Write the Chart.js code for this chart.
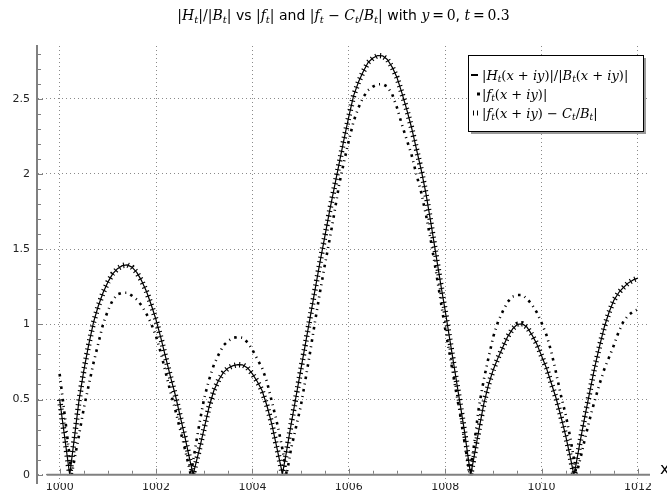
<!DOCTYPE html>
<html>
<head>
<meta charset="utf-8">
<script src="https://cdn.jsdelivr.net/npm/chart.js@4.4.1/dist/chart.umd.min.js"></script>
<style>
  html, body { margin: 0; padding: 0; background: #fff; }
</style>
</head>
<body>
<canvas id="chart" width="667" height="498"></canvas>
<script>
// sample positions along x (step 0.1 from 1000 to 1012)
const xValues = Array.from({ length: 121 }, (_, i) => +(1000 + i * 0.1).toFixed(1));

// |H_t(x+iy)| / |B_t(x+iy)|
const hValues = [
  0.50, 0.26, 0.02, 0.23, 0.49, 0.69, 0.86, 1.01, 1.12, 1.21,
  1.28, 1.335, 1.37, 1.39, 1.395, 1.38, 1.345, 1.29, 1.22, 1.13,
  1.03, 0.91, 0.78, 0.65, 0.53, 0.39, 0.25, 0.10, 0.04, 0.17,
  0.31, 0.45, 0.56, 0.63, 0.68, 0.71, 0.725, 0.732, 0.73, 0.71,
  0.67, 0.62, 0.56, 0.46, 0.34, 0.19, 0.04, 0.14, 0.33, 0.51,
  0.69, 0.87, 1.05, 1.23, 1.41, 1.58, 1.75, 1.91, 2.07, 2.23,
  2.38, 2.52, 2.61, 2.68, 2.74, 2.77, 2.787, 2.785, 2.76, 2.71,
  2.64, 2.54, 2.43, 2.31, 2.17, 2.03, 1.87, 1.68, 1.48, 1.28,
  1.09, 0.89, 0.69, 0.49, 0.29, 0.06, 0.12, 0.30, 0.47, 0.60,
  0.70, 0.78, 0.85, 0.92, 0.97, 1.00, 1.003, 0.98, 0.93, 0.87,
  0.79, 0.71, 0.61, 0.51, 0.39, 0.26, 0.11, 0.04, 0.22, 0.39,
  0.55, 0.71, 0.85, 0.98, 1.08, 1.16, 1.21, 1.245, 1.275, 1.295,
  1.307
];
const hZeros = [1000.21, 1002.77, 1004.62, 1008.53, 1010.67];

// |f_t(x+iy)|
const fValues = [
  0.67, 0.41, 0.14, 0.09, 0.26, 0.44, 0.59, 0.74, 0.87, 1.00,
  1.09, 1.16, 1.20, 1.21, 1.21, 1.19, 1.165, 1.125, 1.07, 1.005,
  0.92, 0.81, 0.68, 0.55, 0.43, 0.30, 0.17, 0.03, 0.15, 0.34,
  0.51, 0.63, 0.73, 0.80, 0.86, 0.89, 0.91, 0.916, 0.91, 0.88,
  0.83, 0.77, 0.71, 0.62, 0.49, 0.36, 0.21, 0.03, 0.17, 0.31,
  0.45, 0.63, 0.82, 1.02, 1.21, 1.39, 1.56, 1.74, 1.93, 2.08,
  2.22, 2.35, 2.44, 2.51, 2.556, 2.58, 2.595, 2.597, 2.58, 2.53,
  2.44, 2.33, 2.23, 2.13, 2.00, 1.88, 1.73, 1.56, 1.37, 1.17,
  0.97, 0.79, 0.60, 0.42, 0.22, 0.02, 0.20, 0.45, 0.63, 0.78,
  0.92, 1.02, 1.09, 1.15, 1.185, 1.195, 1.195, 1.17, 1.13, 1.08,
  1.01, 0.93, 0.82, 0.68, 0.53, 0.40, 0.24, 0.05, 0.10, 0.24,
  0.37, 0.49, 0.60, 0.70, 0.78, 0.86, 0.95, 1.02, 1.06, 1.085,
  1.10
];
const fZeros = [1000.25, 1002.72, 1004.71, 1008.51, 1010.72];

// |f_t - C_t/B_t| lies on top of |H_t|/|B_t| in the picture
const gValues = hValues;
const gZeros = hZeros;

const xTicks = [1000, 1002, 1004, 1006, 1008, 1010, 1012];
const yTicks = [0, 0.5, 1, 1.5, 2, 2.5];

// rich text pieces: m = math italic, r = math roman, s = sans, b = subscript
const titleText = [
  ['|', 'r'], ['H', 'm'], ['t', 'b'], ['|/|', 'r'], ['B', 'm'], ['t', 'b'], ['|', 'r'],
  [' vs ', 's'], ['|', 'r'], ['f', 'm'], ['t', 'b'], ['|', 'r'], [' and ', 's'],
  ['|', 'r'], ['f', 'm'], ['t', 'b'], [' \u2212 ', 'r'], ['C', 'm'], ['t', 'b'], ['/', 'r'],
  ['B', 'm'], ['t', 'b'], ['|', 'r'], [' with ', 's'], ['y', 'm'], ['\u2009=\u2009', 'r'], ['0', 'r'], [', ', 's'],
  ['t', 'm'], ['\u2009=\u2009', 'r'], ['0.3', 'r']
];
const legendLabels = [
  [['|', 'r'], ['H', 'm'], ['t', 'b'], ['(', 'r'], ['x', 'm'], [' + ', 'r'], ['iy', 'm'], [')|/|', 'r'],
   ['B', 'm'], ['t', 'b'], ['(', 'r'], ['x', 'm'], [' + ', 'r'], ['iy', 'm'], [')|', 'r']],
  [['|', 'r'], ['f', 'm'], ['t', 'b'], ['(', 'r'], ['x', 'm'], [' + ', 'r'], ['iy', 'm'], [')|', 'r']],
  [['|', 'r'], ['f', 'm'], ['t', 'b'], ['(', 'r'], ['x', 'm'], [' + ', 'r'], ['iy', 'm'], [') \u2212 ', 'r'],
   ['C', 'm'], ['t', 'b'], ['/', 'r'], ['B', 'm'], ['t', 'b'], ['|', 'r']]
];

function fontFor(kind, size) {
  if (kind === 'm') return `italic ${size}px "DejaVu Serif"`;
  if (kind === 'b') return `italic ${Math.round(size * 0.7)}px "DejaVu Serif"`;
  if (kind === 's') return `${size}px "DejaVu Sans"`;
  return `${size}px "DejaVu Serif"`;
}

function richWidth(ctx, segs, size) {
  let w = 0;
  segs.forEach(([t, k]) => { ctx.font = fontFor(k, size); w += ctx.measureText(t).width; });
  return w;
}

function drawRich(ctx, segs, x, y, size) {
  ctx.textBaseline = 'alphabetic';
  ctx.textAlign = 'left';
  segs.forEach(([t, k]) => {
    ctx.font = fontFor(k, size);
    ctx.fillText(t, x, k === 'b' ? y + size * 0.2 : y);
    x += ctx.measureText(t).width;
  });
}

function buildPoints(values, zeros) {
  const pts = xValues.map((x, i) => ({ x: x, y: values[i] }));
  zeros.forEach(z => pts.push({ x: z, y: 0 }));
  return pts.sort((a, b) => a.x - b.x);
}

// title, x axis line at y=0, inward ticks, "x" label and the legend box
const decorPlugin = {
  id: 'decor',
  afterDatasetsDraw(chart) {
    const { ctx, scales: { x, y } } = chart;
    const y0 = y.getPixelForValue(0);
    ctx.save();
    ctx.strokeStyle = '#808080';
    ctx.lineWidth = 2;
    ctx.beginPath();
    ctx.moveTo(x.getPixelForValue(999.73), y0);
    ctx.lineTo(x.right, y0);
    ctx.stroke();

    ctx.lineWidth = 1;
    ctx.beginPath();
    for (let k = 0; k <= 28; k++) {
      const py = Math.round(y.getPixelForValue(k / 10)) + 0.5;
      const len = k % 5 === 0 ? 5 : 3;
      ctx.moveTo(x.left + 1, py);
      ctx.lineTo(x.left + 1 + len, py);
    }
    for (let k = 0; k <= 24; k++) {
      const px = Math.round(x.getPixelForValue(1000 + k / 2)) + 0.5;
      const len = k % 4 === 0 ? 5 : 3;
      ctx.moveTo(px, y0 - 1);
      ctx.lineTo(px, y0 - 1 - len);
    }
    ctx.stroke();

    ctx.fillStyle = '#000';
    ctx.font = '16px "DejaVu Sans"';
    ctx.textBaseline = 'alphabetic';
    ctx.textAlign = 'left';
    ctx.fillText('x', 660, 474);
    ctx.restore();
  },
  afterDraw(chart) {
    const { ctx, scales: { x } } = chart;
    ctx.save();
    ctx.fillStyle = '#000';
    const size = 14;
    const w = richWidth(ctx, titleText, size);
    drawRich(ctx, titleText, (x.left + x.right) / 2 - w / 2, 20, size);

    // legend box with drop shadow
    const bx = 468, by = 55, bw = 175, bh = 76;
    ctx.fillStyle = '#9a9a9a';
    ctx.fillRect(bx + 3, by + 3, bw, bh);
    ctx.fillStyle = '#fff';
    ctx.fillRect(bx, by, bw, bh);
    ctx.strokeStyle = '#000';
    ctx.lineWidth = 1;
    ctx.strokeRect(bx + 0.5, by + 0.5, bw, bh);

    const rows = [75, 94, 113];
    ctx.fillStyle = '#000';
    ctx.lineWidth = 2;
    ctx.beginPath();
    ctx.moveTo(471, rows[0]);
    ctx.lineTo(478, rows[0]);
    ctx.stroke();
    ctx.fillRect(477, rows[1] - 1.5, 3, 3);
    ctx.lineWidth = 1;
    ctx.beginPath();
    ctx.moveTo(473.5, rows[2] - 2.5); ctx.lineTo(473.5, rows[2] + 2.5);
    ctx.moveTo(477.5, rows[2] - 2.5); ctx.lineTo(477.5, rows[2] + 2.5);
    ctx.stroke();
    legendLabels.forEach((segs, i) => drawRich(ctx, segs, 482, rows[i] + 4.5, 13));
    ctx.restore();
  }
};

const ctx = document.getElementById('chart').getContext('2d');
new Chart(ctx, {
  type: 'line',
  data: {
    datasets: [
      {
        label: '|f_t(x+iy)|',
        data: buildPoints(fValues, fZeros),
        borderColor: '#000',
        borderWidth: 2.6,
        borderDash: [2.6, 4.5, 1, 4.5],
        borderCapStyle: 'butt',
        borderJoinStyle: 'bevel',
        pointRadius: 0,
        tension: 0
      },
      {
        label: '|H_t(x+iy)|/|B_t(x+iy)|',
        data: buildPoints(hValues, hZeros),
        borderColor: '#000',
        borderWidth: 1.2,
        borderJoinStyle: 'bevel',
        pointRadius: 0,
        tension: 0
      },
      {
        label: '|f_t(x+iy) - C_t/B_t|',
        data: buildPoints(gValues, gZeros),
        borderColor: '#000',
        borderWidth: 5.5,
        borderDash: [1.1, 3.6],
        borderCapStyle: 'butt',
        borderJoinStyle: 'bevel',
        pointRadius: 0,
        tension: 0
      }
    ]
  },
  options: {
    responsive: false,
    animation: false,
    events: [],
    layout: { padding: { top: 46, right: 17, left: 0, bottom: 0 } },
    plugins: {
      legend: { display: false },
      title: { display: false },
      tooltip: { enabled: false }
    },
    scales: {
      x: {
        type: 'linear',
        min: 999.53,
        max: 1012.25,
        afterBuildTicks: scale => { scale.ticks = xTicks.map(v => ({ value: v })); },
        afterFit: scale => { scale.height = 15; },
        grid: { color: '#8a8a8a', lineWidth: 1, drawTicks: false },
        border: { display: false, dash: [1, 3] },
        ticks: {
          padding: -2,
          color: '#222',
          font: { family: 'DejaVu Sans', size: 11 },
          callback: v => String(v)
        }
      },
      y: {
        type: 'linear',
        min: -0.055,
        max: 2.85,
        afterBuildTicks: scale => { scale.ticks = yTicks.map(v => ({ value: v })); },
        afterFit: scale => { scale.width = 37; },
        grid: { color: '#8a8a8a', lineWidth: 1, drawTicks: false },
        border: { display: true, color: '#808080', width: 2, dash: [1, 3] },
        ticks: {
          padding: 7,
          color: '#222',
          font: { family: 'DejaVu Sans', size: 11 },
          callback: v => String(v)
        }
      }
    }
  },
  plugins: [decorPlugin]
});
</script>
</body>
</html>
